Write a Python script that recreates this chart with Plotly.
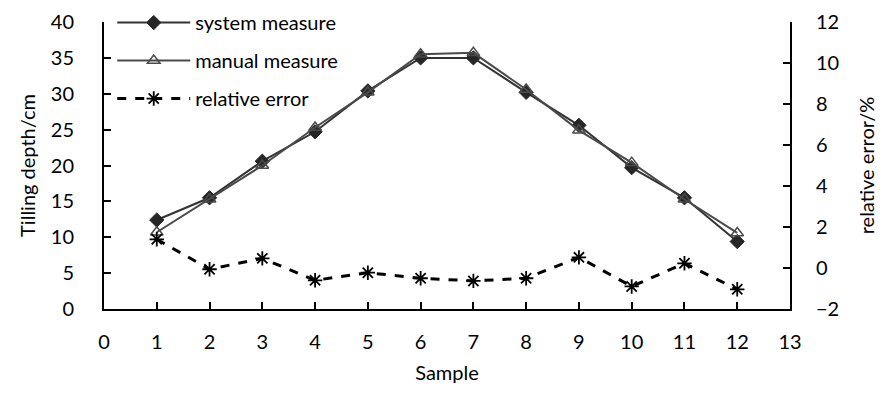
import plotly.graph_objects as go

samples = [1, 2, 3, 4, 5, 6, 7, 8, 9, 10, 11, 12]
system_measure = [12.4, 15.5, 20.6, 24.7, 30.4, 35.0, 35.0, 30.2, 25.6, 19.7, 15.5, 9.4]
manual_measure = [10.7, 15.3, 20.0, 25.3, 30.2, 35.5, 35.7, 30.6, 24.9, 20.4, 15.3, 10.6]
relative_error = [1.4, -0.06, 0.47, -0.6, -0.23, -0.5, -0.63, -0.5, 0.52, -0.9, 0.23, -1.04]

x_ticks = list(range(0, 14))
left_ticks = list(range(0, 41, 5))
right_ticks = list(range(-2, 13, 2))

FONT = "Lato"
FS = 20
fig = go.Figure()

fig.add_trace(go.Scatter(
    x=samples, y=system_measure, name="system measure", mode="lines+markers",
    legendgroup="a",
    line=dict(color="#333333", width=2),
    marker=dict(symbol="diamond", size=11, color="#262626", line=dict(color="#262626", width=1)),
))
fig.add_trace(go.Scatter(
    x=samples, y=manual_measure, name="manual measure", mode="lines+markers",
    legendgroup="b",
    line=dict(color="#4a4a4a", width=2),
    marker=dict(symbol="triangle-up-open", size=11, color="#4a4a4a", line=dict(color="#4a4a4a", width=1.5)),
))
fig.add_trace(go.Scatter(
    x=samples, y=relative_error, name="relative error", mode="lines+markers",
    legendgroup="c", yaxis="y2",
    line=dict(color="#000000", width=3, dash="dash"),
    marker=dict(symbol="asterisk-open", size=12, color="#000000", line=dict(color="#000000", width=1.8)),
))

axis_common = dict(
    showgrid=False, zeroline=False, showline=True, linecolor="#000000", linewidth=2,
    ticks="inside", ticklen=7, tickwidth=1.5, tickcolor="#000000",
    tickfont=dict(family=FONT, size=FS, color="#000000"),
)

fig.update_layout(
    width=886, height=394,
    margin=dict(l=104, r=96, t=22, b=85, autoexpand=False),
    paper_bgcolor="white", plot_bgcolor="white",
    font=dict(family=FONT, size=FS, color="#000000"),
    xaxis=dict(range=[0, 13], tickvals=x_ticks, ticktext=[str(v) for v in x_ticks],
               ticklabelstandoff=14,
               title=dict(text="Sample", font=dict(family=FONT, size=FS), standoff=14), **axis_common),
    yaxis=dict(range=[0, 40], tickvals=left_ticks, ticktext=[str(v) for v in left_ticks],
               ticklabelstandoff=24,
               title=dict(text="Tilling depth/cm", font=dict(family=FONT, size=FS), standoff=10), **axis_common),
    yaxis2=dict(range=[-2, 12], tickvals=right_ticks, overlaying="y", side="right",
                ticklabelstandoff=20,
                title=dict(text="relative error/%", font=dict(family=FONT, size=FS), standoff=22), **axis_common),
    legend=dict(x=0.012, y=1.066, xanchor="left", yanchor="top", bgcolor="rgba(0,0,0,0)",
                font=dict(family=FONT, size=FS), tracegroupgap=9, traceorder="grouped",
                itemwidth=73),
    showlegend=True,
)

fig.write_html("out.html")
